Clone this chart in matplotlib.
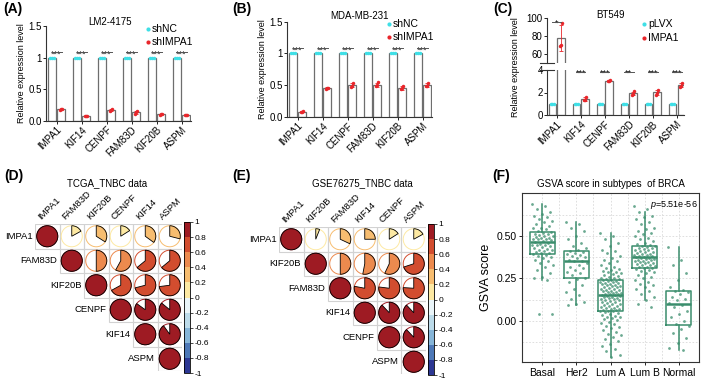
import numpy as np
import matplotlib
matplotlib.use('Agg')
import matplotlib.pyplot as plt
from matplotlib.patches import Rectangle, Circle, Wedge
from matplotlib.colors import ListedColormap, BoundaryNorm
from matplotlib.lines import Line2D
import matplotlib.cm as cm

plt.rcParams['font.family'] = ['Liberation Sans', 'DejaVu Sans']
plt.rcParams['mathtext.fontset'] = 'custom'
plt.rcParams['mathtext.rm'] = 'Liberation Sans'
plt.rcParams['mathtext.it'] = 'Liberation Sans:italic'

# ---------------- data ----------------
genes = ['IMPA1', 'KIF14', 'CENPF', 'FAM83D', 'KIF20B', 'ASPM']
stars_ab = ['***', '***', '***', '***', '***', '***']
stars_c = ['*', '***', '***', '**', '***', '***']

ctrl_reps = [[1.0, 1.0, 1.0]] * 6
a_kd = [[0.17, 0.18, 0.19], [0.07, 0.075, 0.08], [0.16, 0.17, 0.18],
        [0.10, 0.13, 0.16], [0.095, 0.10, 0.105], [0.085, 0.09, 0.095]]
b_kd = [[0.075, 0.08, 0.085], [0.43, 0.45, 0.46], [0.47, 0.48, 0.53],
        [0.48, 0.50, 0.54], [0.43, 0.45, 0.48], [0.48, 0.49, 0.53]]
c_oe = [[69, 70, 94], [1.3, 1.35, 1.6], [3.0, 3.05, 3.1],
        [1.8, 1.9, 2.1], [1.8, 2.0, 2.25], [2.5, 2.6, 2.85]]

d_names = ['IMPA1', 'FAM83D', 'KIF20B', 'CENPF', 'KIF14', 'ASPM']
d_upper = [[0.17, 0.34, 0.16, 0.35, 0.29],
           [0.50, 0.58, 0.64, 0.64],
           [0.67, 0.71, 0.73],
           [0.85, 0.86],
           [0.90]]
e_names = ['IMPA1', 'KIF20B', 'FAM83D', 'KIF14', 'CENPF', 'ASPM']
e_upper = [[0.06, 0.32, 0.25, 0.16, 0.17],
           [0.50, 0.53, 0.57, 0.70],
           [0.78, 0.77, 0.76],
           [0.88, 0.88],
           [0.88]]
cbar_labels = ['-1', '-0.8', '-0.6', '-0.4', '-0.2', '0', '0.2', '0.4', '0.6', '0.8', '1']

subtypes = ['Basal', 'Her2', 'Lum A', 'Lum B', 'Normal']
basal = [0.69, 0.68, 0.66, 0.64, 0.63, 0.62, 0.61, 0.60, 0.59, 0.58, 0.57, 0.56, 0.55, 0.545, 0.54, 0.53,
         0.525, 0.52, 0.515, 0.51, 0.505, 0.50, 0.50, 0.495, 0.49, 0.49, 0.485, 0.48, 0.48, 0.475, 0.47, 0.465,
         0.46, 0.455, 0.45, 0.45, 0.445, 0.44, 0.435, 0.43, 0.425, 0.42, 0.415, 0.41, 0.405, 0.40, 0.40, 0.395,
         0.39, 0.38, 0.375, 0.37, 0.36, 0.35, 0.34, 0.33, 0.32, 0.30, 0.28, 0.26, 0.25, 0.24, 0.04, 0.04]
her2 = [0.585, 0.57, 0.55, 0.53, 0.50, 0.48, 0.46, 0.44, 0.43, 0.415,
        0.41, 0.405, 0.40, 0.395, 0.39, 0.38, 0.375, 0.37, 0.36, 0.355,
        0.35, 0.34, 0.33, 0.32, 0.31, 0.30, 0.29, 0.28, 0.27, 0.255,
        0.245, 0.23, 0.21, 0.19, 0.17, 0.15, 0.13, 0.11, 0.10, 0.092]
luma = [0.516, 0.50, 0.48, 0.46, 0.44, 0.42, 0.41, 0.40, 0.38, 0.37, 0.36, 0.35, 0.34, 0.33, 0.32,
        0.31, 0.305, 0.30, 0.295, 0.29, 0.285, 0.28, 0.275, 0.27, 0.265, 0.26, 0.255, 0.25, 0.248, 0.245,
        0.242, 0.24, 0.237, 0.234, 0.231, 0.228, 0.225, 0.222, 0.219, 0.216, 0.213, 0.21, 0.206, 0.203, 0.20,
        0.197, 0.194, 0.19, 0.187, 0.184, 0.18, 0.177, 0.174, 0.171, 0.168, 0.165, 0.162, 0.16, 0.158, 0.156,
        0.154, 0.151, 0.148, 0.145, 0.142, 0.139, 0.136, 0.133, 0.13, 0.127, 0.124, 0.12, 0.117, 0.113, 0.11,
        0.106, 0.102, 0.098, 0.094, 0.09, 0.086, 0.082, 0.078, 0.074, 0.07, 0.067, 0.064, 0.062, 0.06, 0.059,
        0.055, 0.05, 0.045, 0.04, 0.035, 0.03, 0.025, 0.02, 0.014, 0.008, 0.002, -0.005, -0.012, -0.02, -0.028,
        -0.036, -0.045, -0.055, -0.065, -0.075, -0.085, -0.095, -0.105, -0.12, -0.135, -0.15, -0.165, -0.18, -0.2, -0.213]
lumb = [0.677, 0.66, 0.64, 0.62, 0.61, 0.60, 0.58, 0.57, 0.55, 0.54, 0.53, 0.52, 0.51, 0.50, 0.49, 0.48, 0.47, 0.46, 0.455, 0.448,
        0.443, 0.44, 0.436, 0.432, 0.428, 0.424, 0.42, 0.416, 0.412, 0.408, 0.404, 0.40, 0.396, 0.392, 0.389, 0.386, 0.383, 0.38, 0.377, 0.375,
        0.372, 0.369, 0.366, 0.363, 0.36, 0.357, 0.354, 0.351, 0.348, 0.345, 0.342, 0.339, 0.336, 0.332, 0.328, 0.324, 0.32, 0.316, 0.313, 0.31,
        0.305, 0.30, 0.295, 0.29, 0.28, 0.27, 0.26, 0.25, 0.24, 0.23, 0.22, 0.21, 0.20, 0.19, 0.175, 0.16, 0.14, 0.12, 0.10, 0.083]
normal = [0.433, 0.36, 0.33, 0.28, 0.24, 0.20, 0.18,
          0.175, 0.17, 0.16, 0.14, 0.13, 0.12, 0.105,
          0.095, 0.08, 0.06, 0.04, 0.02, 0.0, -0.02,
          -0.03, -0.05, -0.07, -0.10, -0.13, -0.16, -0.171]

# ---------------- style ----------------
CYAN = '#3fdfe6'
RED = '#e8262b'
BAR_EC = '#6e6e6e'
GREEN = '#3a8d6c'
corr_colors = ['#2c3793', '#4d78b7', '#86b5d8', '#bcdbea', '#eaf5f9',
               '#fde9a3', '#f7bd70', '#ec8a4e', '#d24d2f', '#9e1b23']
corr_cmap = ListedColormap(corr_colors)
corr_norm = BoundaryNorm(np.linspace(-1, 1, 11), corr_cmap.N)

W, H = 709, 388
fig = plt.figure(figsize=(W / 100, H / 100), dpi=100)


def px(l, t, w, h):
    return [l / W, 1 - (t + h) / H, w / W, h / H]


def draw_bars(ax, ctrl, treat):
    x = np.arange(len(genes))
    ax.bar(x - 0.18, [np.mean(r) for r in ctrl], 0.3, color='white', edgecolor=BAR_EC, lw=0.9, zorder=2)
    ax.bar(x + 0.18, [np.mean(r) for r in treat], 0.3, color='white', edgecolor=BAR_EC, lw=0.9, zorder=2)
    ax.errorbar(x + 0.18, [np.mean(r) for r in treat], yerr=[np.std(r, ddof=1) for r in treat],
                fmt='none', ecolor=RED, elinewidth=0.6, capsize=1.5, capthick=0.6, zorder=3)
    for k in range(len(genes)):
        ax.plot(x[k] - 0.18 + np.array([-0.07, 0, 0.07]), ctrl[k], 'o', ms=2.5, mew=0, color=CYAN, zorder=4)
        ax.plot(x[k] + 0.18 + np.array([-0.05, 0, 0.05]), treat[k], 'o', ms=2.5, mew=0, color=RED, zorder=4)


def style_ax(ax, xlim):
    for s in ['top', 'right']:
        ax.spines[s].set_visible(False)
    for s in ['left', 'bottom']:
        ax.spines[s].set_linewidth(0.8)
        ax.spines[s].set_color('#333333')
    ax.set_xlim(*xlim)
    ax.tick_params(length=2, width=0.6, labelsize=7, pad=1)
    ax.set_xticks(np.arange(len(genes)))
    ax.set_xticklabels(genes, rotation=45, ha='right', rotation_mode='anchor')


def sig(ax, k, y, txt):
    ax.plot([k - 0.2, k + 0.2], [y, y], color='#555555', lw=0.7, clip_on=False, zorder=5)
    ax.annotate(txt, (k, y), xytext=(0, -3), textcoords='offset points', ha='center', va='baseline',
                fontsize=6.5, annotation_clip=False)


def fig_legend(x, y, labels, colors, dy):
    for i, (lab, col) in enumerate(zip(labels, colors)):
        fig.add_artist(Line2D([x / W], [1 - (y + i * dy) / H], marker='o', ms=3, mew=0, color=col, ls=''))
        fig.text((x + 4) / W, 1 - (y + i * dy) / H, lab, fontsize=7.5, va='center')


# ---------------- (A) ----------------
axA = fig.add_axes(px(46, 26, 145, 94.6))
draw_bars(axA, ctrl_reps, a_kd)
style_ax(axA, (-0.42, 5.38))
axA.set_ylim(0, 1.5)
axA.set_yticks([0, 0.5, 1, 1.5])
axA.set_yticklabels(['0.0', '0.5', '1', '1.5'])
for k in range(6):
    sig(axA, k, 1.08, stars_ab[k])
axA.set_ylabel('Relative expression level', fontsize=6.5, labelpad=2)
axA.text(0.44, 1.045, 'LM2-4175', transform=axA.transAxes, ha='center', va='center', fontsize=7)
fig_legend(148, 29, ['shNC', 'shIMPA1'], [CYAN, RED], 13)

# ---------------- (B) ----------------
axB = fig.add_axes(px(287, 21.7, 145, 95))
draw_bars(axB, ctrl_reps, b_kd)
style_ax(axB, (-0.42, 5.38))
axB.set_ylim(0, 1.5)
axB.set_yticks([0, 0.5, 1, 1.5])
axB.set_yticklabels(['0.0', '0.5', '1', '1.5'])
for k in range(6):
    sig(axB, k, 1.08, stars_ab[k])
axB.set_ylabel('Relative expression level', fontsize=6.5, labelpad=2)
axB.text(0.5, 1.06, 'MDA-MB-231', transform=axB.transAxes, ha='center', va='center', fontsize=7)
fig_legend(389, 24, ['shNC', 'shIMPA1'], [CYAN, RED], 13)

# ---------------- (C) broken axis ----------------
axCt = fig.add_axes(px(547, 18, 137, 45))
axCb = fig.add_axes(px(547, 70, 137, 45))
for ax in (axCt, axCb):
    draw_bars(ax, ctrl_reps, c_oe)
    style_ax(ax, (-0.4, 5.3))
axCt.set_ylim(50, 100)
axCt.set_yticks([60, 80, 100])
axCt.spines['bottom'].set_visible(False)
axCt.tick_params(axis='x', bottom=False, labelbottom=False)
axCb.set_ylim(0, 4)
axCb.set_yticks([0, 2, 4])
axCt.plot([-0.05, 0.05], [0, 0], transform=axCt.transAxes, color='#333333', lw=0.8, clip_on=False)
axCb.plot([-0.05, 0.05], [1, 1], transform=axCb.transAxes, color='#333333', lw=0.8, clip_on=False)
sig(axCt, 0, 96, stars_c[0])
for k in range(1, 6):
    sig(axCb, k, 3.85, stars_c[k])
fig.text(515 / W, 1 - 67 / H, 'Relative expression level', rotation=90, ha='center', va='center', fontsize=6.5)
axCt.text(0.46, 1.07, 'BT549', transform=axCt.transAxes, ha='center', va='center', fontsize=7)
fig_legend(644, 24, ['pLVX', 'IMPA1'], [CYAN, RED], 14)


# ---------------- (D) (E) correlation pies ----------------
def corr_panel(rect, cbar_rect, names, upper, title, title_xy):
    ax = fig.add_axes(px(*rect))
    n = len(names)
    ax.set_xlim(0, n)
    ax.set_ylim(0, n)
    ax.axis('off')
    for i in range(n):
        vals = [1.0] + upper[i] if i < n - 1 else [1.0]
        for j in range(i, n):
            r = vals[j - i]
            y0 = n - 1 - i
            col = corr_cmap(corr_norm(r))
            ax.add_patch(Rectangle((j, y0), 1, 1, fill=False, ec='#d2d2d2', lw=0.8))
            ax.add_patch(Circle((j + 0.5, y0 + 0.5), 0.43, fill=False, ec=col, lw=0.7))
            ax.add_patch(Wedge((j + 0.5, y0 + 0.5), 0.43, 90 - 360 * r, 90, fc=col, ec='black', lw=0.6))
        ax.text(i - 0.1, n - 0.5 - i, names[i], ha='right', va='center', fontsize=6.8)
        ax.text(i + 0.3, n + 0.1, names[i], rotation=45, ha='left', va='bottom',
                rotation_mode='anchor', fontsize=6.8)
    cax = fig.add_axes(px(*cbar_rect))
    cb = fig.colorbar(cm.ScalarMappable(norm=corr_norm, cmap=corr_cmap), cax=cax)
    cb.set_ticks(np.linspace(-1, 1, 11))
    cb.set_ticklabels(cbar_labels)
    cb.outline.set_linewidth(0.6)
    cax.tick_params(length=2, width=0.5, labelsize=6, pad=1)
    fig.text(title_xy[0] / W, 1 - title_xy[1] / H, title, ha='center', va='center', fontsize=7)


corr_panel((35, 224, 147, 147), (184, 222, 6, 151), d_names, d_upper, 'TCGA_TNBC data', (107, 183))
corr_panel((279, 227, 147, 147), (428, 224, 6, 151), e_names, e_upper, 'GSE76275_TNBC data', (362, 183))

# ---------------- (F) boxplot ----------------
axF = fig.add_axes(px(522, 193, 177, 169))
groups = [basal, her2, luma, lumb, normal]
axF.boxplot(groups, positions=np.arange(1, 6), widths=0.75, showfliers=False, showcaps=False,
            boxprops=dict(color=GREEN, lw=1.1), whiskerprops=dict(color=GREEN, lw=1.1),
            medianprops=dict(color=GREEN, lw=1.8), zorder=2)
for k, vals in enumerate(groups):
    offs = ((np.arange(len(vals)) * 0.6180339887) % 1 - 0.5) * 0.62
    axF.scatter(k + 1 + offs, vals, s=4, color=GREEN, alpha=0.75, lw=0, zorder=3)
axF.set_xlim(0.4, 5.6)
axF.set_ylim(-0.243, 0.754)
axF.set_yticks([0, 0.25, 0.5])
axF.set_yticklabels(['0.00', '0.25', '0.50'])
axF.set_yticks([-0.125, 0.125, 0.375, 0.625], minor=True)
axF.set_xticks(np.arange(1, 6))
axF.set_xticks(np.arange(1.5, 5.5), minor=True)
axF.set_xticklabels(subtypes)
axF.grid(True, which='both', color='#d9d9d9', lw=0.6, ls=(0, (2, 2)))
axF.set_axisbelow(True)
axF.tick_params(which='major', length=2.5, width=0.6, labelsize=7.5, pad=1.5)
axF.tick_params(which='minor', length=0)
for s in axF.spines.values():
    s.set_linewidth(0.8)
    s.set_color('#333333')
axF.set_ylabel('GSVA score', fontsize=9, labelpad=3)
axF.text(0.995, 0.93, r'$p$=5.51e-56', transform=axF.transAxes, ha='right', va='center', fontsize=6.5)
axF.set_title('GSVA score in subtypes  of BRCA', fontsize=7, pad=4)

# ---------------- panel letters ----------------
for lab, x, y in [('(A)', 3, 9), ('(B)', 232, 9), ('(C)', 493, 9),
                  ('(D)', 4, 176), ('(E)', 232, 176), ('(F)', 492, 176)]:
    fig.text(x / W, 1 - y / H, lab, fontsize=10, fontweight='bold', va='center', ha='left')

fig.savefig('out.png', dpi=100)
